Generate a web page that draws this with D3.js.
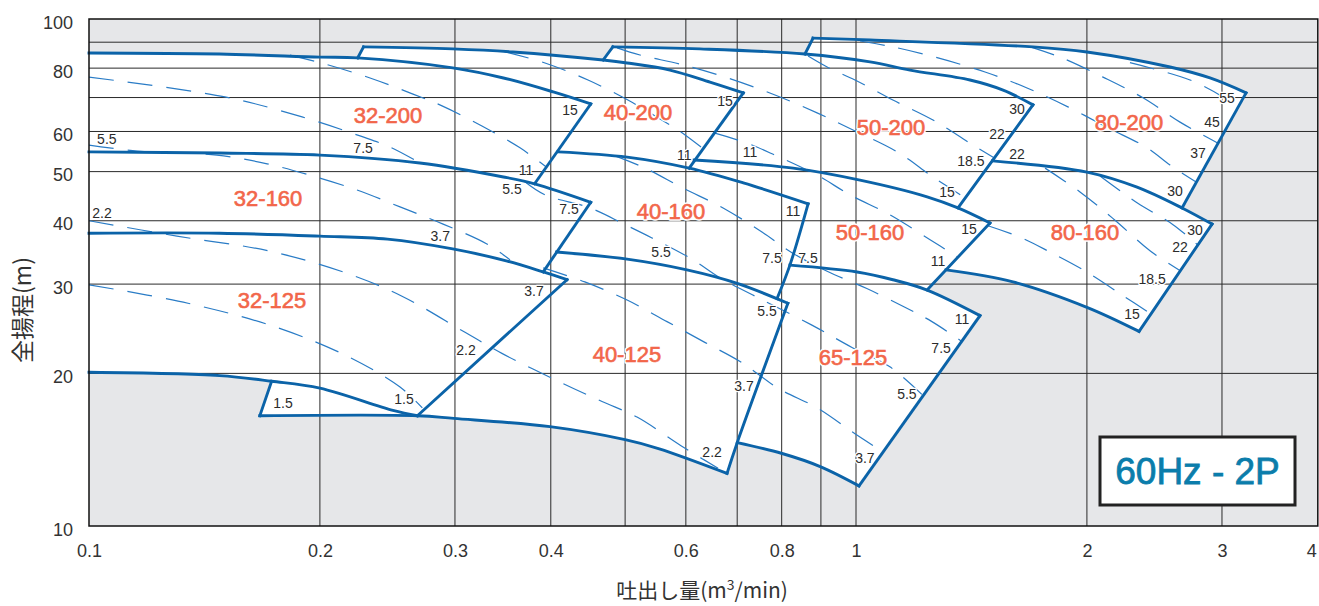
<!DOCTYPE html>
<html><head><meta charset="utf-8">
<script src="https://cdn.jsdelivr.net/npm/d3@7"></script>
<style>body{margin:0;background:#fff}svg{display:block}</style>
</head><body>
<svg id="c" width="1319" height="606"></svg>
<script>
// ---------- axis data ----------
const xTicks = [0.1,0.2,0.3,0.4,0.6,0.8,1,2,3,4];
const xGrid  = [0.2,0.3,0.4,0.5,0.6,0.7,0.8,0.9,1,2,3];
const yTicks = [10,20,30,40,50,60,80,100];
const yGrid  = [20,30,40,50,60,70,80,90];

// ---------- envelope curves [Q m3/min, H m] ----------
const top32_200   = [[0.1,85.7],[0.148,85.3],[0.2,84.1],[0.224,83.8],[0.298,80.1],[0.347,76.5],[0.403,71.8],[0.451,68.0]];
const right32_200 = [[0.451,68.0],[0.381,47.3]];
const top32_160   = [[0.1,54.7],[0.148,54.4],[0.2,53.9],[0.270,52.0],[0.347,48.8],[0.381,47.3],[0.451,43.5]];
const right32_160 = [[0.451,43.5],[0.391,31.7]];
const top32_125   = [[0.1,37.8],[0.148,37.8],[0.2,37.3],[0.245,36.8],[0.298,35.2],[0.351,33.3],[0.391,31.7],[0.42,30.6]];
const right32_125 = [[0.42,30.6],[0.268,16.5]];
const bot32_125   = [[0.1,20.1],[0.148,19.8],[0.173,19.3],[0.2,18.7],[0.249,16.9],[0.268,16.5]];
const box32_125   = [[0.173,19.3],[0.167,16.5]];
const bot40_125   = [[0.167,16.5],[0.268,16.5],[0.299,16.3],[0.399,15.7],[0.5,14.8],[0.554,14.2],[0.679,12.7]];
const left40_200  = [[0.224,83.8],[0.228,88.1]];
const top40_200   = [[0.228,88.1],[0.298,87.3],[0.357,86.1],[0.468,83.0],[0.503,81.9],[0.572,79.3],[0.645,75.1],[0.713,71.5]];
const right40_200 = [[0.713,71.5],[0.606,50.8]];
const top40_160   = [[0.409,54.7],[0.503,53.4],[0.606,50.8],[0.713,47.5],[0.866,43.2]];
const right40_160 = [[0.866,43.2],[0.820,32.7],[0.789,28.1]];
const top40_125   = [[0.407,34.7],[0.503,33.6],[0.602,32.0],[0.7,30.1],[0.815,27.5]];
const right40_125 = [[0.815,27.5],[0.7,14.6],[0.679,12.7]];
const top65_125   = [[0.820,32.7],[1.003,31.7],[1.117,30.6],[1.238,29.2],[1.451,26.0]];
const right65_125 = [[1.451,26.0],[1.009,12.0]];
const bot65_125   = [[0.7,14.6],[0.801,13.9],[0.898,13.1],[1.009,12.0]];
const left50_200  = [[0.468,83.0],[0.482,88.1]];
const top50_200   = [[0.482,88.1],[0.626,87.3],[0.858,85.3],[1.043,82.3],[1.176,79.3],[1.408,75.8],[1.555,72.4],[1.701,67.7]];
const right50_200 = [[1.701,67.7],[1.358,42.4]];
const bot50_200   = [[0.615,52.7],[0.828,50.8],[1.012,48.1],[1.238,44.6],[1.358,42.4],[1.495,39.6]];
const right50_160 = [[1.495,39.6],[1.238,29.2]];
const left80_200  = [[0.858,85.3],[0.879,91.7]];
const top80_200   = [[0.879,91.7],[1.043,90.9],[1.701,88.1],[2.0,86.1],[2.567,80.4],[2.894,76.5],[3.225,71.5]];
const right80_200 = [[3.225,71.5],[2.661,42.4]];
const top80_160   = [[1.506,52.5],[2.0,49.9],[2.325,46.6],[2.661,42.4],[2.912,39.4]];
const right80_160 = [[2.912,39.4],[2.339,24.2]];
const bot80_160   = [[1.310,32.0],[1.602,30.3],[2.0,27.0],[2.339,24.2]];

// ---------- motor output (kW) division lines ----------
const kw1 = [[0.1,29.9],[0.1346,27.5],[0.1764,24.6],[0.2189,21.5],[0.2544,18.8],[0.272,17.1]];
const kw2 = [[0.1,40.0],[0.1302,37.3],[0.1712,34.9],[0.2157,31.6],[0.2559,28.4],[0.3092,24.1],[0.3454,21.9],[0.415,19.1],[0.4665,17.6],[0.5182,16.4],[0.5913,14.4],[0.6609,13.0]];
const kw3 = [[0.1,56.4],[0.1155,54.9],[0.1468,53.9],[0.1707,51.8],[0.1959,49.0],[0.2236,46.0],[0.2544,42.6],[0.2895,39.4],[0.3302,36.0],[0.3539,33.5]];
const kw4 = [[0.391,32.3],[0.443,30.3],[0.503,27.9],[0.567,25.3],[0.636,23.0],[0.710,21.0],[0.791,18.7],[0.890,17.1],[0.997,15.2],[1.084,14.0]];
const kw5 = [[0.369,47.9],[0.393,45.0],[0.450,42.4],[0.500,39.3],[0.542,37.0],[0.611,33.6],[0.669,30.7],[0.756,27.9],[0.876,24.9],[0.988,22.5],[1.107,20.6],[1.222,18.1]];
const kw6 = [[0.1,76.8],[0.1504,70.2],[0.1896,64.1],[0.2256,58.8],[0.2469,55.9],[0.2701,52.0]];
const kw7 = [[0.1828,84.9],[0.2031,81.5],[0.2325,76.5],[0.2645,71.1],[0.2886,67.4],[0.3253,61.5],[0.3647,55.7],[0.3943,51.1]];
const kw8 = [[0.348,86.2],[0.3931,81.9],[0.4473,75.8],[0.5042,69.2],[0.5553,63.5],[0.586,60.4],[0.6299,55.7]];
const kw9 = [[0.488,87.7],[0.5228,84.9],[0.595,81.2],[0.681,76.5],[0.7841,70.8],[0.8897,65.3],[0.991,60.4],[1.131,54.7],[1.26,48.8],[1.387,44.4]];
const kw10 = [[0.653,59.6],[0.721,56.9],[0.784,53.9],[0.890,49.2],[0.982,45.0],[1.107,41.1],[1.249,36.7],[1.358,33.9]];
const kw11 = [[0.485,53.7],[0.531,50.8],[0.595,46.4],[0.671,42.4],[0.754,38.0],[0.825,34.6],[0.917,31.8],[1.033,29.4],[1.158,27.0],[1.256,25.3],[1.375,23.1]];
const kw12 = [[0.866,84.5],[0.917,80.4],[0.997,75.8],[1.117,69.2],[1.260,63.2],[1.408,56.9],[1.515,53.2]];
const kw13 = [[1.012,90.5],[1.117,88.1],[1.279,83.8],[1.473,78.6],[1.671,73.1],[1.889,67.1],[2.131,61.0],[2.396,55.7],[2.567,51.5],[2.776,47.7]];
const kw14 = [[1.687,88.1],[1.856,83.8],[2.099,76.8],[2.367,69.9],[2.645,62.6],[2.965,56.9]];
const kw15 = [[2.276,82.0],[2.726,75.8],[3.009,70.2],[3.147,66.8]];
const kw16 = [[2.08,49.0],[2.325,43.4],[2.59,39.3],[2.792,35.8]];
const kw17 = [[1.764,50.8],[1.959,45.6],[2.176,40.1],[2.417,34.9],[2.653,31.8]];
const kw18 = [[1.486,39.1],[1.645,37.0],[1.790,34.7],[2.006,31.6],[2.242,28.3],[2.424,26.2]];

// ---------- labels ----------
const kwLabels = [
 ["5.5",0.1055,58.0],["7.5",0.2277,55.7],["11",0.3714,50.4],["15",0.4238,66.1],
 ["2.2",0.104,41.4],["3.7",0.287,37.3],["5.5",0.3561,46.2],["7.5",0.4225,42.2],
 ["3.7",0.3804,29.1],["2.2",0.3101,22.2],["1.5",0.2574,17.8],["1.5",0.179,17.5],
 ["15",0.675,68.9],["11",0.597,53.9],
 ["5.5",0.557,34.7],["7.5",0.7771,33.8],["11",0.8277,41.8],
 ["5.5",0.7656,26.6],["3.7",0.7145,18.9],["2.2",0.6492,14.0],
 ["11",0.7275,54.7],["15",1.314,45.6],["18.5",1.412,52.5],["22",1.527,59.3],["30",1.621,66.5],
 ["7.5",0.8658,33.8],["11",1.279,33.3],["15",1.404,38.5],
 ["11",1.375,25.6],["7.5",1.291,22.4],["5.5",1.165,18.2],["3.7",1.027,13.6],
 ["22",1.621,54.2],["30",2.606,45.8],["37",2.792,54.4],["45",2.912,62.6],["55",3.046,69.9],
 ["15",2.290,26.2],["18.5",2.432,30.7],["22",2.645,35.5],["30",2.767,38.4]
];
const modelLabels = [
 ["32-200",0.2454,64.7],["32-160",0.1712,44.4],["32-125",0.1732,27.9],
 ["40-200",0.5197,65.5],["40-160",0.5738,41.8],["40-125",0.5027,21.8],
 ["50-200",1.111,61.2],["50-160",1.043,38.0],["65-125",0.991,21.5],
 ["80-200",2.269,62.6],["80-160",1.989,38.0]
];
const badgeText = "60Hz - 2P";
const yTitle = "全揚程(m)";

// ---------- drawing ----------
const svg = d3.select('#c');
const x = d3.scaleLog().domain([0.1,4]).range([89,1317.8]);
const y = d3.scaleLog().domain([10,100]).range([526,19]);
const X0=x(0.1), X1=x(4), Y0=y(10), Y1=y(100);
const BLUE="#0b63a8", DBLUE="#2a7cc6", FONT="'Liberation Sans',Arial,Helvetica,sans-serif";
const CJK="'Noto Sans CJK JP','Noto Sans CJK SC',sans-serif";

svg.append('defs').append('clipPath').attr('id','plot')
  .append('rect').attr('x',X0).attr('y',Y1).attr('width',X1-X0).attr('height',Y0-Y1);

svg.append('rect').attr('x',X0).attr('y',Y1).attr('width',X1-X0).attr('height',Y0-Y1).attr('fill','#e6e7e9');

const gen = d3.line().x(d=>x(d[0])).y(d=>y(d[1])).curve(d3.curveCatmullRom.alpha(0.5));

// union of operating ranges (white)
const pieces = [
  top32_200.filter(d=>d[0]<=0.224), left40_200, top40_200.filter(d=>d[0]<=0.468),
  left50_200, top50_200.filter(d=>d[0]<=0.858), left80_200, top80_200, right80_200,
  top80_160.filter(d=>d[0]>=2.661), right80_160, bot80_160.slice().reverse(),
  [bot80_160[0], right50_160[1]], top65_125.filter(d=>d[0]>=1.238), right65_125,
  bot65_125.slice().reverse(), right40_125.slice(1), bot40_125.slice().reverse(),
  box32_125.slice().reverse(), bot32_125.filter(d=>d[0]<=0.173).reverse()
];
const dUnion = pieces.map((p,i)=> i===0 ? gen(p) : gen(p).replace(/^M/,'L')).join('') + 'Z';
svg.append('path').attr('d',dUnion).attr('fill','#fff').attr('clip-path','url(#plot)');

// grid
const g = svg.append('g').attr('stroke','#2a2a2a').attr('stroke-width',1);
g.selectAll('.vx').data(xGrid).join('line').attr('x1',d=>x(d)).attr('x2',d=>x(d)).attr('y1',Y1).attr('y2',Y0);
g.selectAll('.hy').data(yGrid).join('line').attr('y1',d=>y(d)).attr('y2',d=>y(d)).attr('x1',X0).attr('x2',X1);

// kW lines
const kwLines = [kw1,kw2,kw3,kw4,kw5,kw6,kw7,kw8,kw9,kw10,kw11,kw12,kw13,kw14,kw15,kw16,kw17,kw18];
svg.append('g').attr('clip-path','url(#plot)').selectAll('path').data(kwLines).join('path')
  .attr('d',gen).attr('fill','none').attr('stroke',DBLUE).attr('stroke-width',1.2).attr('stroke-dasharray','25,14');

// envelopes
const solids = [top32_200,right32_200,top32_160,right32_160,top32_125,right32_125,bot32_125,box32_125,bot40_125,
  left40_200,top40_200,right40_200,top40_160,right40_160,top40_125,right40_125,top65_125,right65_125,bot65_125,
  left50_200,top50_200,right50_200,bot50_200,right50_160,left80_200,top80_200,right80_200,top80_160,right80_160,bot80_160];
svg.append('g').selectAll('path').data(solids).join('path')
  .attr('d',gen).attr('fill','none').attr('stroke',BLUE).attr('stroke-width',2.9)
  .attr('stroke-linejoin','miter').attr('stroke-linecap','square');

// frame
svg.append('rect').attr('x',X0).attr('y',Y1).attr('width',X1-X0).attr('height',Y0-Y1)
  .attr('fill','none').attr('stroke','#111').attr('stroke-width',1.5);

// axes
const ax = svg.append('g').attr('transform',`translate(0,${Y0})`)
  .call(d3.axisBottom(x).tickValues(xTicks).tickFormat(d=>String(d)).tickSize(0).tickPadding(18));
ax.select('.domain').remove();
ax.selectAll('text').attr('font-family',FONT).attr('font-size',18).attr('fill','#333')
  .attr('text-anchor',d=>d===4?'end':'middle').attr('dx',d=>d===4?'-1.5':'0');
const ay = svg.append('g').attr('transform',`translate(${X0},0)`)
  .call(d3.axisLeft(y).tickValues(yTicks).tickFormat(d=>String(d)).tickSize(0).tickPadding(16));
ay.select('.domain').remove();
ay.selectAll('text').attr('font-family',FONT).attr('font-size',18).attr('fill','#333').attr('dy','0.5em');

// axis titles
svg.append('text').attr('transform',`translate(31,310) rotate(-90)`)
  .attr('text-anchor','middle').attr('font-family',CJK).attr('font-size',23)
  .attr('fill','#333').text(yTitle);
const xt = svg.append('text').attr('x',702).attr('y',598).attr('text-anchor','middle')
  .attr('font-family',CJK).attr('font-size',21).attr('fill','#333');
xt.append('tspan').text('吐出し量(m');
xt.append('tspan').attr('font-size',14).attr('dy',-8).text('3');
xt.append('tspan').attr('dy',8).text('/min)');

// kW labels
svg.append('g').selectAll('text').data(kwLabels).join('text')
  .attr('x',d=>x(d[1])).attr('y',d=>y(d[2])).attr('dy','0.36em').attr('text-anchor','middle')
  .attr('font-family',FONT).attr('font-size',14).attr('fill','#2b2b2b')
  .attr('stroke','#fff').attr('stroke-width',2.5).attr('paint-order','stroke').attr('stroke-linejoin','round')
  .text(d=>d[0]);

// model labels (halo + slightly emboldened text)
const ml = svg.append('g');
ml.selectAll('text.h').data(modelLabels).join('text').attr('class','h')
  .attr('x',d=>x(d[1])).attr('y',d=>y(d[2])).attr('dy','0.36em').attr('text-anchor','middle')
  .attr('font-family',FONT).attr('font-size',22).attr('fill','#fff')
  .attr('stroke','#fff').attr('stroke-width',3.5).attr('stroke-linejoin','round').text(d=>d[0]);
ml.selectAll('text.t').data(modelLabels).join('text').attr('class','t')
  .attr('x',d=>x(d[1])).attr('y',d=>y(d[2])).attr('dy','0.36em').attr('text-anchor','middle')
  .attr('font-family',FONT).attr('font-size',22).attr('fill','#f2664a')
  .attr('stroke','#f2664a').attr('stroke-width',0.6).text(d=>d[0]);

// badge
svg.append('rect').attr('x',1100).attr('y',437).attr('width',195).attr('height',68)
  .attr('fill','#fff').attr('stroke','#222').attr('stroke-width',3);
svg.append('text').attr('x',1197.5).attr('y',471).attr('dy','0.36em').attr('text-anchor','middle')
  .attr('font-family',FONT).attr('font-size',37).attr('fill','#0b7dab')
  .attr('stroke','#0b7dab').attr('stroke-width',0.8).text(badgeText);
</script>
</body></html>
